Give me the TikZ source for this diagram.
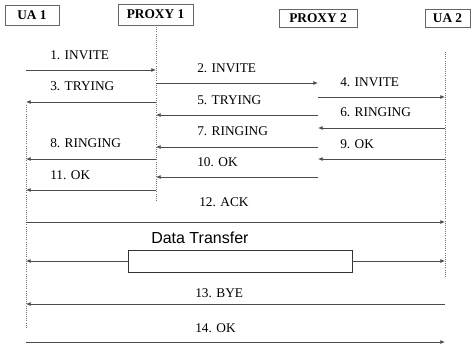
\documentclass[tikz,border=0pt]{standalone}
\usepackage{fontspec}
\setmainfont{Liberation Serif}
\newfontfamily\arialfont{Liberation Sans}
\usetikzlibrary{arrows.meta}

\begin{document}
\begin{tikzpicture}[x=0.75pt,y=0.75pt,yscale=-1,
    msg/.style={draw=black!70,line width=0.6pt,-{Latex[length=3.5pt,width=3pt]}},
    life/.style={draw=black!55,densely dotted,line width=0.6pt},
    ent/.style={draw=black!60,line width=0.7pt,inner sep=0pt,font=\bfseries},
    lbl/.style={anchor=west,inner sep=0.75pt}]
        \useasboundingbox (0,0) rectangle (471,347);
        %Shape: Rectangle [id:ua1] 
        \node [ent,minimum width=40.5pt,minimum height=15pt] (ua1) at (32,15) {UA 1};
        %Shape: Rectangle [id:prx1] 
        \node [ent,minimum width=56.25pt,minimum height=15.75pt] (prx1) at (155.5,14.5) {PROXY 1};
        %Shape: Rectangle [id:prx2] 
        \node [ent,minimum width=58.5pt,minimum height=13.5pt] (prx2) at (318,18) {PROXY 2};
        %Shape: Rectangle [id:ua2] 
        \node [ent,minimum width=33.75pt,minimum height=13.5pt] (ua2) at (447.5,18) {UA 2};

        %Life lines
        \coordinate (ua1top) at (26,105);
        \coordinate (ua1bot) at (26,328);
        \coordinate (p1top) at (156,25);
        \coordinate (p1bot) at (156,202);
        \coordinate (ua2top) at (445,52);
        \coordinate (ua2bot) at (445,278);
        \draw [life] (ua1top) -- (ua1bot) ;
        \draw [life] (p1top) -- (p1bot) ;
        \draw [life] (ua2top) -- (ua2bot) ;

        %Message ends
        \coordinate (a1) at (26,70);   \coordinate (b1) at (156,70);
        \coordinate (a2) at (156,83);  \coordinate (b2) at (318,83);
        \coordinate (a3) at (156,102); \coordinate (b3) at (26,102);
        \coordinate (a4) at (318,97);  \coordinate (b4) at (445,97);
        \coordinate (a5) at (318,115); \coordinate (b5) at (156,115);
        \coordinate (a6) at (445,128); \coordinate (b6) at (318,128);
        \coordinate (a7) at (318,147); \coordinate (b7) at (156,147);
        \coordinate (a8) at (156,159); \coordinate (b8) at (26,159);
        \coordinate (a9) at (445,159); \coordinate (b9) at (318,159);
        \coordinate (a10) at (318,177); \coordinate (b10) at (156,177);
        \coordinate (a11) at (156,190); \coordinate (b11) at (26,190);
        \coordinate (a12) at (26,222);  \coordinate (b12) at (445,222);
        \coordinate (a13) at (445,304); \coordinate (b13) at (26,304);
        \coordinate (a14) at (26,342);  \coordinate (b14) at (445,342);

        %Straight Lines [id:m1] 
        \draw [msg] (a1) -- (b1) ;
        %Straight Lines [id:m2] 
        \draw [msg] (a2) -- (b2) ;
        %Straight Lines [id:m3] 
        \draw [msg] (a3) -- (b3) ;
        %Straight Lines [id:m4] 
        \draw [msg] (a4) -- (b4) ;
        %Straight Lines [id:m5] 
        \draw [msg] (a5) -- (b5) ;
        %Straight Lines [id:m6] 
        \draw [msg] (a6) -- (b6) ;
        %Straight Lines [id:m7] 
        \draw [msg] (a7) -- (b7) ;
        %Straight Lines [id:m8] 
        \draw [msg] (a8) -- (b8) ;
        %Straight Lines [id:m9] 
        \draw [msg] (a9) -- (b9) ;
        %Straight Lines [id:m10] 
        \draw [msg] (a10) -- (b10) ;
        %Straight Lines [id:m11] 
        \draw [msg] (a11) -- (b11) ;
        %Straight Lines [id:m12] 
        \draw [msg] (a12) -- (b12) ;
        %Straight Lines [id:m13] 
        \draw [msg] (a13) -- (b13) ;
        %Straight Lines [id:m14] 
        \draw [msg] (a14) -- (b14) ;

        %Shape: Rectangle [id:dt] 
        \node [draw=black!80,line width=0.6pt,minimum width=168pt,minimum height=16.5pt,inner sep=0pt] (dt) at (240,261) {};
        \coordinate (dtl) at (26,261);
        \coordinate (dtr) at (445,261);
        \draw [msg] (dt.west) -- (dtl) ;
        \draw [msg] (dt.east) -- (dtr) ;

        % Text Node
        \node [lbl] (t1) at (49,55) {1. INVITE};
        % Text Node
        \node [lbl] (t2) at (196,68) {2. INVITE};
        % Text Node
        \node [lbl] (t3) at (49,86) {3. TRYING};
        % Text Node
        \node [lbl] (t4) at (339,82) {4. INVITE};
        % Text Node
        \node [lbl] (t5) at (196,100) {5. TRYING};
        % Text Node
        \node [lbl] (t6) at (339,112) {6. RINGING};
        % Text Node
        \node [lbl] (t7) at (196,131) {7. RINGING};
        % Text Node
        \node [lbl] (t8) at (49,143) {8. RINGING};
        % Text Node
        \node [lbl] (t9) at (339,144) {9. OK};
        % Text Node
        \node [lbl] (t10) at (196,162) {10. OK};
        % Text Node
        \node [lbl] (t11) at (49,175) {11. OK};
        % Text Node
        \node [lbl] (t12) at (198,202) {12. ACK};
        % Text Node
        \node [lbl,font=\arialfont\fontsize{12}{14}\selectfont] (tdt) at (150,238) {Data Transfer};
        % Text Node
        \node [lbl] (t13) at (194,293) {13. BYE};
        % Text Node
        \node [lbl] (t14) at (194,328) {14. OK};
\end{tikzpicture}
\end{document}
